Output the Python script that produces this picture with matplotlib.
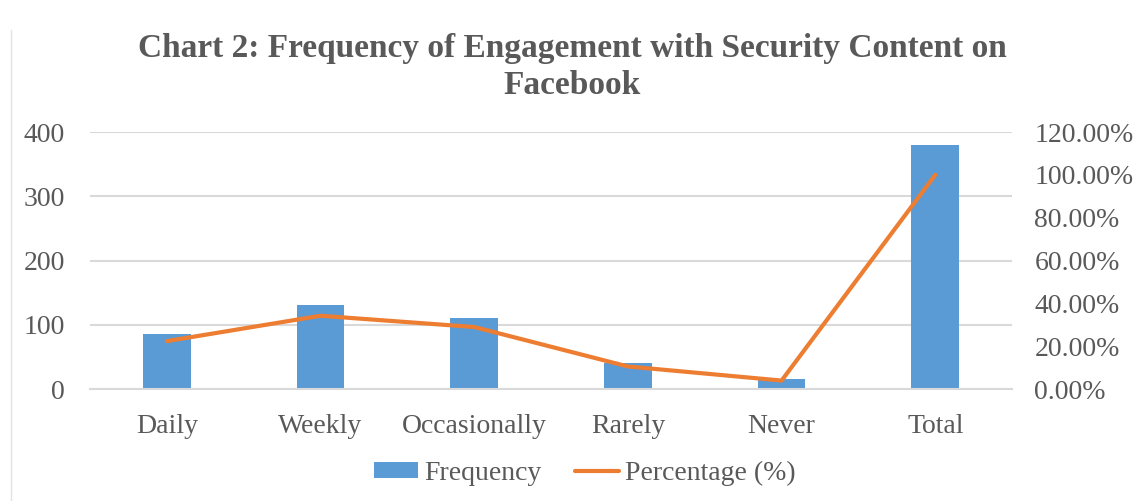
import matplotlib
matplotlib.use("Agg")
import matplotlib.pyplot as plt
from matplotlib.lines import Line2D
from matplotlib.ticker import FuncFormatter

categories = ["Daily", "Weekly", "Occasionally", "Rarely", "Never", "Total"]
frequency = [85, 130, 110, 40, 15, 380]
percentage = [22.37, 34.21, 28.95, 10.53, 3.95, 100.0]
left_ticks = [0, 100, 200, 300, 400]
right_ticks = [0, 20, 40, 60, 80, 100, 120]

plt.rcParams["font.family"] = ["Liberation Serif", "DejaVu Serif"]
txt = "#595959"

fig = plt.figure(figsize=(11.44, 5.01), dpi=100)
ax = fig.add_axes([0.0787, 0.2235, 0.806, 0.513])
ax2 = ax.twinx()

x = list(range(len(categories)))
bars = ax.bar(x, frequency, width=0.31, color="#5B9BD5", label="Frequency", zorder=2)
line, = ax2.plot(x, percentage, color="#ED7D31", lw=3.0, label="Percentage (%)",
                 solid_capstyle="round", zorder=3)

ax.set_xlim(-0.5, 5.5)
ax.set_ylim(0, 400)
ax.set_yticks(left_ticks)
ax2.set_ylim(0, 120)
ax2.set_yticks(right_ticks)
ax2.yaxis.set_major_formatter(FuncFormatter(lambda v, p: f"{v:.2f}%"))

ax.set_xticks(x)
ax.set_xticklabels(categories)
ax.grid(axis="y", color="#d9d9d9", lw=1.5, zorder=0)
ax.set_axisbelow(True)
for a in (ax, ax2):
    for s in a.spines.values():
        s.set_visible(False)
    a.tick_params(length=0, labelsize=20, labelcolor=txt)
ax.spines["bottom"].set_visible(True)
ax.spines["bottom"].set_color("#d9d9d9")
ax.spines["bottom"].set_linewidth(1.5)
ax.tick_params(axis="y", pad=18)
ax.tick_params(axis="x", pad=18)
ax2.tick_params(axis="y", pad=16)

fig.text(0.5, 0.866, "Chart 2: Frequency of Engagement with Security Content on\nFacebook",
         ha="center", va="center", fontsize=24, fontweight="bold", color=txt,
         linespacing=1.22)

fig.legend([bars, line], ["Frequency", "Percentage (%)"], loc="center",
           bbox_to_anchor=(0.511, 0.056), ncol=2, frameon=False, fontsize=20,
           labelcolor=txt, handlelength=1.6, handleheight=0.5, handletextpad=0.2,
           columnspacing=1.2)

fig.add_artist(Line2D([0.0095, 0.0095], [0.0, 0.94], color="#e3e3e3", lw=1))

fig.savefig("out.png", dpi=100, facecolor="white")
